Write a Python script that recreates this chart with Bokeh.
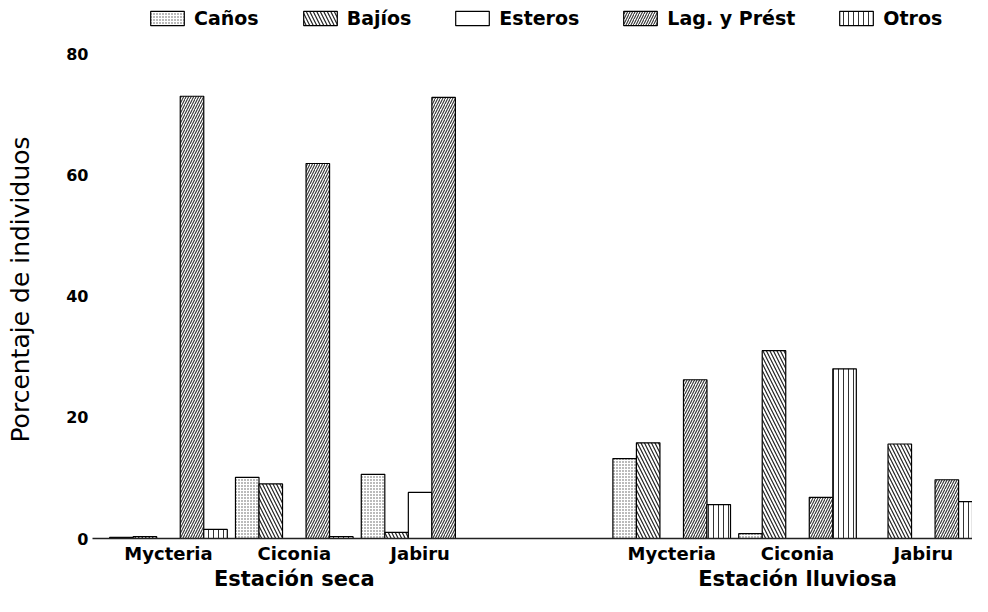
from bokeh.plotting import figure
from bokeh.layouts import column
from bokeh.models import (ColumnDataSource, Range1d, FixedTicker, LinearAxis,
                          Legend, LegendItem)
from bokeh.embed import file_html
from bokeh.resources import INLINE

# ---- data -------------------------------------------------------------
species = ["Mycteria", "Ciconia", "Jabiru"]
seasons = ["Estación seca", "Estación lluviosa"]
habitats = ["Caños", "Bajíos", "Esteros", "Lag. y Prést", "Otros"]

# percentage of individuals, one list per habitat, order:
# dry Mycteria, dry Ciconia, dry Jabiru, wet Mycteria, wet Ciconia, wet Jabiru
canos   = [0.2, 10.1, 10.6, 13.2, 0.8, 0.0]
bajios  = [0.3, 9.0, 1.0, 15.8, 31.0, 15.6]
esteros = [0.0, 0.0, 7.6, 0.0, 0.0, 0.0]
lagyp   = [73.0, 61.9, 72.8, 26.2, 6.8, 9.7]
otros   = [1.5, 0.3, 0.0, 5.6, 28.0, 6.1]
values = [canos, bajios, esteros, lagyp, otros]

y_ticks = [0, 20, 40, 60, 80]

# ---- layout helpers -----------------------------------------------------
FONT = "DejaVu Sans"
W = 972
bar_w = 0.187
season_gap = 1.0                       # an empty slot between the seasons
centers = []
for s in range(len(seasons)):
    for k in range(len(species)):
        centers.append(s * (len(species) + season_gap) + k)
season_centers = [sum(centers[s*3:(s+1)*3]) / 3 for s in range(len(seasons))]

styles = [
    dict(hatch_pattern=".", hatch_scale=3, hatch_color="#555555", hatch_weight=1),
    dict(hatch_pattern="\\", hatch_scale=7, hatch_color="#222222", hatch_weight=1.2),
    dict(hatch_pattern=" "),
    dict(hatch_pattern="/", hatch_scale=5, hatch_color="#333333", hatch_weight=1.1),
    dict(hatch_pattern="|", hatch_scale=5, hatch_color="#333333", hatch_weight=1),
]
bar_kw = dict(fill_color="white", line_color="black", line_width=1.2)

sources = []
for i, vals in enumerate(values):
    off = (i - 2) * bar_w
    sources.append(ColumnDataSource(dict(x=[c + off for c in centers], top=vals)))

x_range = Range1d(-0.604, 6.391)

# ---- legend strip: hidden proxy renderers, only the legend is drawn ---------
lp = figure(width=W, height=34, output_backend="svg", toolbar_location=None,
            x_range=x_range, y_range=Range1d(0, 1),
            x_axis_location=None, y_axis_location=None,
            min_border_left=92, min_border_right=0, min_border_top=0,
            min_border_bottom=0)
lp.grid.visible = False
lp.outline_line_color = None
leg_renderers = [lp.vbar(x="x", top="top", bottom=0, width=bar_w, source=src,
                         visible=False, **bar_kw, **styles[i])
                 for i, src in enumerate(sources)]
legend = Legend(items=[LegendItem(label=h, renderers=[r])
                       for h, r in zip(habitats, leg_renderers)],
                orientation="horizontal", location=(54, 5),
                glyph_width=42, glyph_height=18, label_standoff=6, spacing=40,
                padding=0, margin=0, border_line_color=None,
                background_fill_alpha=0, inactive_fill_alpha=0,
                label_text_font=FONT, label_text_font_style="bold",
                label_text_font_size="19px", label_text_color="black")
lp.add_layout(legend)

# ---- main chart -------------------------------------------------------------
p = figure(width=W, height=562, output_backend="svg", toolbar_location=None,
           x_range=x_range, y_range=Range1d(0, 82.2),
           min_border_left=92, min_border_right=0, min_border_top=6,
           min_border_bottom=58)
p.grid.visible = False
p.outline_line_color = None
p.background_fill_color = "white"

for i, src in enumerate(sources):
    p.vbar(x="x", top="top", bottom=0, width=bar_w, source=src,
           **bar_kw, **styles[i])

# y axis
ya = p.yaxis[0]
ya.ticker = FixedTicker(ticks=y_ticks)
ya.axis_line_color = None
ya.major_tick_line_color = None
ya.minor_tick_line_color = None
ya.major_tick_in = 0
ya.major_tick_out = 0
ya.major_label_standoff = 4
ya.major_label_text_font = FONT
ya.major_label_text_font_style = "bold"
ya.major_label_text_font_size = "16px"
ya.major_label_text_color = "black"
ya.axis_label = "Porcentaje de individuos"
ya.axis_label_text_font = FONT
ya.axis_label_text_font_style = "normal"
ya.axis_label_text_font_size = "25px"
ya.axis_label_text_color = "black"
ya.axis_label_standoff = 28

# x axis: species
xa = p.xaxis[0]
xa.ticker = FixedTicker(ticks=centers)
xa.major_label_overrides = {c: species[i % 3] for i, c in enumerate(centers)}
xa.axis_line_color = "#222222"
xa.axis_line_width = 1.5
xa.major_tick_line_color = None
xa.minor_tick_line_color = None
xa.major_tick_in = 0
xa.major_tick_out = 0
xa.major_label_standoff = 4
xa.major_label_text_font = FONT
xa.major_label_text_font_style = "bold"
xa.major_label_text_font_size = "18px"
xa.major_label_text_line_height = 1.0
xa.major_label_text_color = "black"

# x axis: seasons
xa2 = LinearAxis(ticker=FixedTicker(ticks=season_centers))
xa2.major_label_overrides = {c: seasons[i] for i, c in enumerate(season_centers)}
xa2.axis_line_color = None
xa2.major_tick_line_color = None
xa2.minor_tick_line_color = None
xa2.major_tick_in = 0
xa2.major_tick_out = 0
xa2.major_label_standoff = 0
xa2.major_label_text_font = FONT
xa2.major_label_text_font_style = "bold"
xa2.major_label_text_font_size = "21px"
xa2.major_label_text_line_height = 1.0
xa2.major_label_text_color = "black"
p.add_layout(xa2, "below")

layout = column(lp, p, spacing=0)
open("out.html", "w").write(file_html(layout, INLINE))
